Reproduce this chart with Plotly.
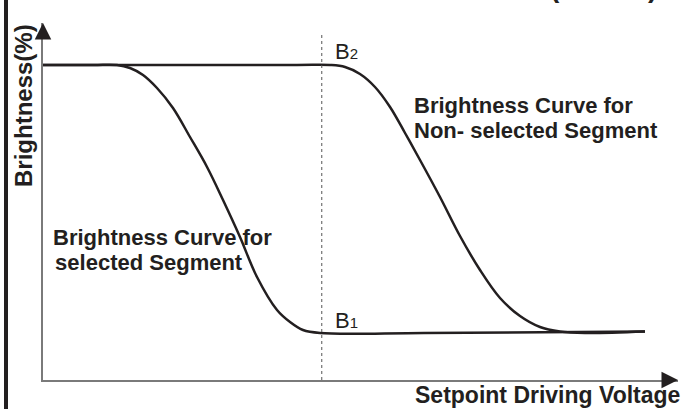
import plotly.graph_objects as go

# ---- data (schematic units: voltage 0-100 along the axis, brightness in %) ----
v_selected = [0, 8.0, 11.65, 13.70, 15.75, 17.95, 20.47, 23.15, 25.83, 28.35, 31.02, 33.70,
              36.85, 38.90, 40.94, 43.62, 60.0, 94.80]
b_selected = [100, 100, 100, 99.05, 96.83, 92.70, 86.35, 77.14, 67.62, 57.14, 45.40, 32.70,
              22.22, 18.41, 15.87, 14.92, 14.92, 15.40]

v_nonselected = [0, 40.0, 45.20, 47.56, 49.92, 52.28, 54.65, 57.01, 59.37, 62.52, 65.67,
                 68.82, 71.97, 75.12, 78.27, 81.42, 85.35, 94.80]
b_nonselected = [100, 100, 100, 99.37, 97.14, 93.02, 86.67, 78.41, 69.84, 58.10, 45.71,
                 34.92, 26.03, 20.32, 16.83, 15.40, 14.92, 15.40]

v_setpoint = 43.9          # dotted reference voltage
b_levels_label = ["B", "B"]
sub_labels = ["2", "1"]

X_MAX = 100.0
Y_MAX = 113.33

# ---- layout helpers (pixel -> paper) ----
L, R, T, B = 43, 6, 23, 29
W, H = 684, 409
PW, PH = W - L - R, H - T - B


def px2paper_x(px):
    return (px - L) / PW


def py2paper_y(py):
    return (H - B - py) / PH


INK = "#231f20"
FONT = "Liberation Sans, Arial, sans-serif"

fig = go.Figure()

fig.add_trace(go.Scatter(x=v_selected, y=b_selected, mode="lines",
                         line=dict(color=INK, width=2.5, shape="spline", smoothing=1.0),
                         hoverinfo="skip", showlegend=False))
fig.add_trace(go.Scatter(x=v_nonselected, y=b_nonselected, mode="lines",
                         line=dict(color=INK, width=2.5, shape="spline", smoothing=1.0),
                         hoverinfo="skip", showlegend=False))

# dotted reference line
fig.add_shape(type="line", xref="x", yref="paper", x0=v_setpoint, x1=v_setpoint,
              y0=0, y1=py2paper_y(35), line=dict(color="#555555", width=1, dash="dot"))

# left border bar
fig.add_shape(type="line", xref="paper", yref="paper",
              x0=px2paper_x(6), x1=px2paper_x(6), y0=-0.2, y1=1.2,
              line=dict(color=INK, width=4))

anns = []
# arrow heads
anns.append(dict(x=0, y=1, xref="paper", yref="paper", ax=0, ay=15, showarrow=True,
                 arrowhead=2, arrowsize=2.2, arrowwidth=1.5, arrowcolor=INK, text=""))
anns.append(dict(x=1, y=0, xref="paper", yref="paper", ax=-15, ay=0, showarrow=True,
                 arrowhead=2, arrowsize=2.2, arrowwidth=1.5, arrowcolor=INK, text=""))


def txt(text, px, py, size, bold=True, xanchor="left", angle=0):
    return dict(x=px2paper_x(px), y=py2paper_y(py), xref="paper", yref="paper",
                text=text, showarrow=False,
                xanchor=xanchor, yanchor="middle", textangle=angle,
                font=dict(family=FONT, size=size, color=INK,
                          weight="bold" if bold else "normal"))


anns.append(txt("Brightness Curve for", 412, 105.5, 22))
anns.append(txt("Non- selected Segment", 412, 130.5, 22))
anns.append(txt("Brightness Curve for", 51, 237.5, 22))
anns.append(txt(" selected Segment", 47, 262.5, 22))
anns.append(txt("Setpoint Driving Voltage", 682, 395, 23, xanchor="right"))
anns.append(txt("Brightness(%)", 24, 106, 24, xanchor="center", angle=-90))
anns.append(txt(b_levels_label[0] + "<span style='font-size:15px'>" + sub_labels[0] + "</span>",
                333, 51, 22, bold=False))
anns.append(txt(b_levels_label[1] + "<span style='font-size:15px'>" + sub_labels[1] + "</span>",
                333, 320, 22, bold=False))
# cut-off title fragments at the top edge
anns.append(txt("(", 555, -12.5, 28, xanchor="center"))
anns.append(txt(")", 652, -12.5, 28, xanchor="center"))

fig.update_layout(
    width=W, height=H,
    margin=dict(l=L, r=R, t=T, b=B, pad=0, autoexpand=False),
    paper_bgcolor="white", plot_bgcolor="white",
    annotations=anns,
    xaxis=dict(range=[0, X_MAX], showgrid=False, zeroline=False, showticklabels=False,
               ticks="", showline=True, linecolor="#7a7a7a", linewidth=2, fixedrange=True),
    yaxis=dict(range=[0, Y_MAX], showgrid=False, zeroline=False, showticklabels=False,
               ticks="", showline=True, linecolor="#7a7a7a", linewidth=2, fixedrange=True),
)

fig.write_html("out.html", config={"displayModeBar": False},
               post_script="document.body.style.margin='0';")
